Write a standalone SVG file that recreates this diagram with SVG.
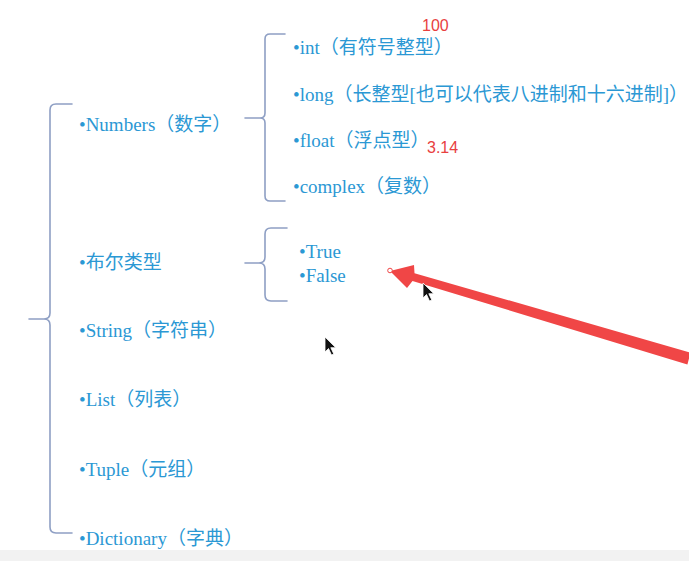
<svg xmlns="http://www.w3.org/2000/svg" width="689" height="561" viewBox="0 0 689 561">
<style>
.t{font-family:"Liberation Serif","Noto Sans CJK SC",serif;font-size:19px;fill:#2b98d4}
.r{font-family:"Liberation Sans",Arial,sans-serif;font-size:16px;fill:#e8403f}
.br{fill:none;stroke:#8e9fc4;stroke-width:1.6;stroke-linecap:round}
</style>
<rect width="689" height="561" fill="#ffffff"/>
<rect x="0" y="550" width="689" height="11" fill="#f2f2f2"/>
<g id="connectors">
<path class="br" d="M72,104 L56,104 Q50,104 50,110 L50,313 Q50,319 44,319 L29,319 M44,319 Q50,319 50,325 L50,527 Q50,533 56,533 L72,533"/>
<path class="br" d="M285,34 L270,34 Q265,34 265,39 L265,113 Q265,118 260,118 L245,118 M260,118 Q265,118 265,123 L265,196 Q265,201 270,201 L285,201"/>
<path class="br" d="M287,228 L271,228 Q265,228 265,234 L265,257 Q265,263 259,263 L245,263 M259,263 Q265,263 265,269 L265,295 Q265,301 271,301 L287,301"/>
</g>
<g id="node-numbers"><text class="t" x="79" y="131">•Numbers（数字）</text></g>
<g id="node-int"><text class="t" x="293" y="54">•int（有符号整型）</text></g>
<g id="node-long"><text class="t" x="293" y="101">•long（长整型[也可以代表八进制和十六进制]）</text></g>
<g id="node-float"><text class="t" x="293" y="147">•float（浮点型）</text></g>
<g id="node-complex"><text class="t" x="293" y="193">•complex（复数）</text></g>
<g id="label-100"><text class="r" x="422" y="31">100</text></g>
<g id="label-314"><text class="r" x="427" y="153">3.14</text></g>
<g id="node-bool"><text class="t" x="79" y="269">•布尔类型</text></g>
<g id="node-true"><text class="t" x="299" y="258">•True</text></g>
<g id="node-false"><text class="t" x="299" y="282">•False</text></g>
<g id="node-string"><text class="t" x="79" y="337">•String（字符串）</text></g>
<g id="node-list"><text class="t" x="79" y="406">•List（列表）</text></g>
<g id="node-tuple"><text class="t" x="79" y="476">•Tuple（元组）</text></g>
<g id="node-dict"><text class="t" x="79" y="545">•Dictionary（字典）</text></g>
<g id="annotation-arrow">
<polygon fill="#f04646" points="390,271 414,265 414.5,273.2 690.6,352.6 687.4,364.4 412.5,281 407,288"/>
<circle cx="390" cy="270.5" r="2.3" fill="#ffffff" stroke="#f04646" stroke-width="1"/>
</g>
<g id="cursors" fill="#111111" stroke="#ffffff" stroke-width="0.8">
<path d="M423,283 l0,15 l3.5,-3.5 l3,6.5 l2.3,-1 l-3,-6.3 l5,0 z"/>
<path d="M325,337 l0,15 l3.5,-3.5 l3,6.5 l2.3,-1 l-3,-6.3 l5,0 z"/>
</g>
</svg>
